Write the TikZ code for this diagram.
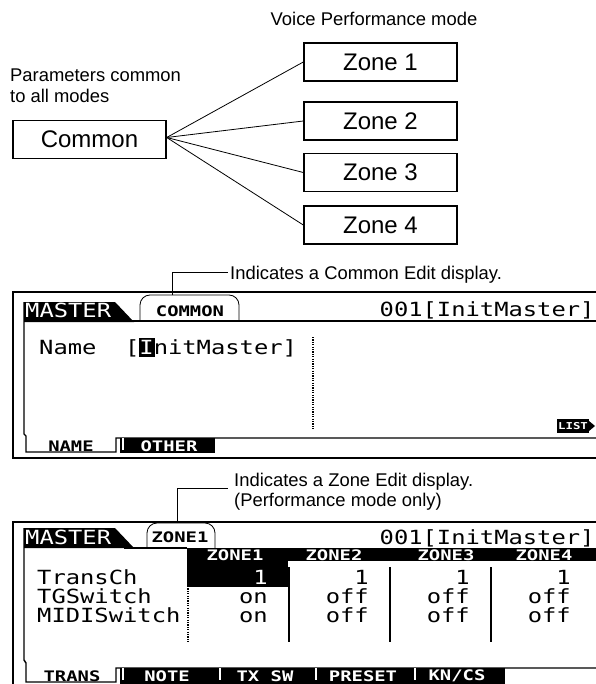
\documentclass[tikz,border=0pt]{standalone}
\usepackage{fontspec}
\setmainfont{Liberation Sans}
\newfontfamily\lcd{DejaVu Sans Mono}[FakeStretch=1.22]
\newfontfamily\lcdb{DejaVu Sans Mono}[FakeStretch=1.3]
\begin{document}
\begin{tikzpicture}[x=1pt,y=-1pt,
  box/.style={draw, line width=1.4pt, minimum width=153pt, minimum height=38pt, inner sep=0pt, font=\fontsize{24}{24}\selectfont},
  note/.style={font=\fontsize{18.4}{21}\selectfont, inner sep=0pt},
  lcdtxt/.style={font=\lcd\fontsize{19.5}{19.5}\selectfont, inner sep=0pt, anchor=base west},
  lcdval/.style={font=\lcd\fontsize{19.5}{19.5}\selectfont, inner sep=0pt, anchor=base east},
  lcdsmall/.style={font=\lcdb\bfseries\fontsize{14.5}{14.5}\selectfont, inner sep=0pt},
  frame/.style={line width=1.6pt},
  thinline/.style={line width=0.8pt},
  inner/.style={line width=1.4pt},
]
\useasboundingbox (0,0) rectangle (595,684);

% ---------- top diagram ----------
\node[note, anchor=base] (vpm) at (374,26) {Voice Performance mode};
\node[note, anchor=base west] (pc1) at (10,82) {Parameters common};
\node[note, anchor=base west] (pc2) at (10,103) {to all modes};
\node[box] (common) at (89.5,139.5) {Common};
\node[box] (z1) at (380.5,62) {Zone 1};
\node[box] (z2) at (380.5,121) {Zone 2};
\node[box] (z3) at (380.5,172.5) {Zone 3};
\node[box] (z4) at (380.5,225) {Zone 4};
\coordinate (cj) at ([yshift=2pt]common.east);
\foreach \z in {z1,z2,z3,z4} \draw[thinline] (cj) -- (\z.west);

% ---------- screen 1 ----------
\node[note, anchor=base west] (ann1) at (230,279) {Indicates a Common Edit display.};
\draw[frame] (13,292) rectangle (620,458);
\fill (24,302) -- (115,302) -- (134,322) -- (24,322) -- cycle;
\node[lcdtxt, text=white] (m1) at (25,317) {MASTER};
\draw[frame] (124,321) -- (620,321);
\draw[inner] (24,302) -- (24,434) -- (26,436) -- (26,452) -- (116,452) -- (116,438) -- (620,438);
\fill (120,438) rectangle (215,453);
\fill[white] (121.5,438) rectangle (124,450);
\node[lcdsmall] (t11) at (71,446) {NAME};
\node[lcdsmall, text=white] (t12) at (169,446) {OTHER};
\fill[white] (141,297) rectangle (238,320);
\draw[thinline, rounded corners=10] (140,321) -- (140,295) -- (239,295) -- (239,321);
\node[lcdsmall] (pill1) at (190,311) {COMMON};
\draw[thinline] (172,295) -- (172,272) -- (228,272);
\node[lcdtxt] (h1) at (379.5,316) {001[InitMaster]};
\fill (138.5,338) rectangle (155,357);
\node[lcdtxt] (name) at (39,354) {Name\ \ [\textcolor{white}{I}nitMaster]};
\draw[line width=1.3pt, dash pattern=on 1.2pt off 1.2pt] (313,337) -- (313,430);
\fill (557,419) rectangle (589,433);
\fill (589,421) -- (595,426) -- (589,431) -- cycle;
\node[font=\lcdb\bfseries\fontsize{9.5}{9.5}\selectfont, text=white, inner sep=0pt] (list) at (573,426) {LIST};

% ---------- screen 2 ----------
\node[note, anchor=base west] (ann2a) at (234,486) {Indicates a Zone Edit display.};
\node[note, anchor=base west] (ann2b) at (234,506) {(Performance mode only)};
\draw[frame] (13,522) rectangle (620,700);
\fill (24,528) -- (115,528) -- (134,548) -- (24,548) -- cycle;
\node[lcdtxt, text=white] (m2) at (25,544) {MASTER};
\draw[frame] (124,548) -- (187,548);
\fill (187,547.5) rectangle (620,561);
\fill (187,561) rectangle (288,587);
\draw[inner] (24,528) -- (24,660) -- (26,663) -- (26,682) -- (116,682) -- (116,668) -- (620,668);
\fill (120,668) rectangle (505,685);
\foreach \sx in {120,217,313,412} \fill[white] (\sx+1.5,668) rectangle (\sx+4,680);
\node[lcdsmall] (t21) at (72,676) {TRANS};
\node[lcdsmall, text=white] (t22) at (167,676) {NOTE};
\node[lcdsmall, text=white] (t23) at (265,676) {TX SW};
\node[lcdsmall, text=white] (t24) at (363,676) {PRESET};
\node[lcdsmall, text=white] (t25) at (457,676) {KN/CS};
\fill[white] (148,524) rectangle (214,546.5);
\draw[thinline, rounded corners=10] (147,548) -- (147,523) -- (215,523) -- (215,548);
\node[lcdsmall] (pill2) at (180,537) {ZONE1};
\draw[thinline] (177,523) -- (177,488) -- (228,488);
\node[lcdtxt] (h2) at (379.5,544) {001[InitMaster]};
\node[lcdsmall, text=white] (zh1) at (235,555) {ZONE1};
\node[lcdsmall, text=white] (zh2) at (334,555) {ZONE2};
\node[lcdsmall, text=white] (zh3) at (446,555) {ZONE3};
\node[lcdsmall, text=white] (zh4) at (544,555) {ZONE4};
\node[lcdtxt] (r1) at (37,584) {TransCh};
\node[lcdtxt] (r2) at (37,603) {TGSwitch};
\node[lcdtxt] (r3) at (37,622) {MIDISwitch};
\node[lcdval, text=white] (v11) at (268,584) {1};
\node[lcdval] (v12) at (268,603) {on};
\node[lcdval] (v13) at (268,622) {on};
\foreach \cx/\n in {369/2,470/3,571/4} {
  \node[lcdval] (v\n1) at (\cx,584) {1};
  \node[lcdval] (v\n2) at (\cx,603) {off};
  \node[lcdval] (v\n3) at (\cx,622) {off};
}
\foreach \sx in {289,390,491} \draw[inner] (\sx,567) -- (\sx,642);
\draw[line width=1.3pt, dash pattern=on 1.2pt off 1.2pt] (188,562) -- (188,642);
\end{tikzpicture}
\end{document}
